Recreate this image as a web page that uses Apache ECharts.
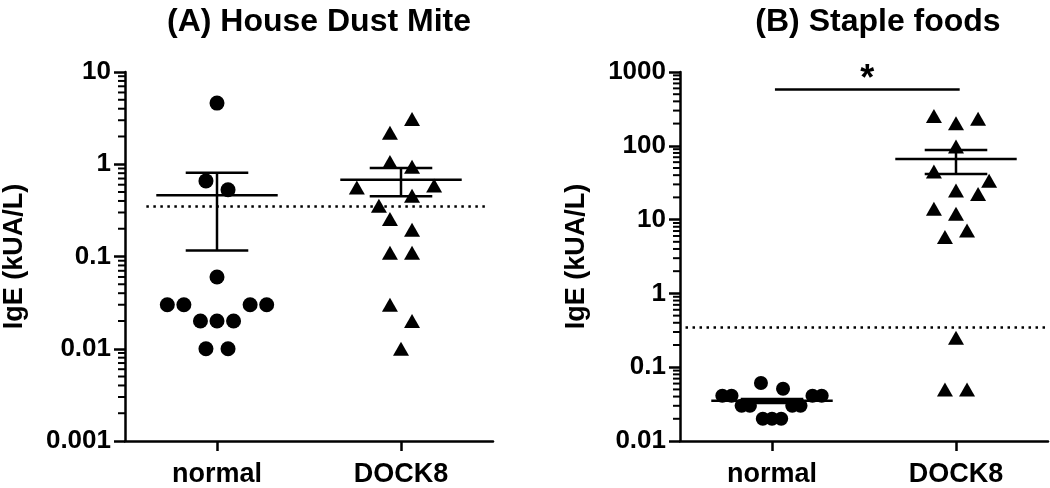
<!DOCTYPE html>
<html>
<head>
<meta charset="utf-8">
<script src="https://cdn.jsdelivr.net/npm/echarts@6/dist/echarts.min.js"></script>
<style>
html,body{margin:0;padding:0;background:#fff;}
#chart{width:1050px;height:488px;}
</style>
</head>
<body>
<div id="chart"></div>
<script>
// ---- data ----
const categories = ['normal', 'DOCK8'];
const titles = ['(A) House Dust Mite', '(B) Staple foods'];
const yName = 'IgE (kUA/L)';
const tickLabelsA = ['0.001', '0.01', '0.1', '1', '10'];
const tickLabelsB = ['0.01', '0.1', '1', '10', '100', '1000'];
const cutoff = 0.35;

// Panel A: house dust mite
const hdmNormalValues = [4.6, 0.66, 0.53, 0.06, 0.03, 0.03, 0.03, 0.03, 0.02, 0.02, 0.02, 0.01, 0.01];
const hdmNormalJitter = [0, -0.06, 0.06, 0, -0.27, -0.18, 0.18, 0.27, -0.09, 0, 0.09, -0.06, 0.06];
const hdmDockValues = [3.1, 2.2, 1.06, 0.94, 0.56, 0.59, 0.455, 0.355, 0.255, 0.195, 0.11, 0.11, 0.03, 0.02, 0.01];
const hdmDockJitter = [0.06, -0.06, -0.06, 0.06, -0.24, 0.18, 0.06, -0.12, -0.06, 0.06, -0.06, 0.06, -0.06, 0.06, 0];
const hdmMean = [0.46, 0.68];
const hdmSemLow = [0.116, 0.45];
const hdmSemHigh = [0.81, 0.91];

// Panel B: staple foods
const foodNormalValues = [0.061, 0.051, 0.041, 0.041, 0.041, 0.041, 0.03, 0.03, 0.03, 0.03, 0.02, 0.02, 0.02];
const foodNormalJitter = [-0.06, 0.06, -0.27, -0.22, 0.22, 0.27, -0.165, -0.12, 0.11, 0.155, -0.05, 0, 0.05];
const foodDockValues = [253, 202, 233, 98, 45, 33.6, 24.7, 22.3, 14, 12, 7.1, 5.8, 0.25, 0.05, 0.05];
const foodDockJitter = [-0.12, 0, 0.12, 0, -0.12, 0.18, 0, 0.12, -0.12, 0, 0.06, -0.06, 0, -0.06, 0.06];
const foodMean = [0.035, 66];
const foodSemLow = [0.0327, 41.4];
const foodSemHigh = [0.037, 88];
const sigBar = {from: 0.016, to: 1.02, level: 592, text: '*'};

// ---- helpers ----
const FONT = 'Liberation Sans, Arial, Helvetica, sans-serif';
function pts(catIndex, values, jitter) {
  return values.map((v, i) => [catIndex + jitter[i], v]);
}
function minorTicks(minExp, maxExp) {
  const out = [];
  for (let e = minExp; e < maxExp; e++) {
    for (let m = 2; m <= 9; m++) out.push([-0.5, m * Math.pow(10, e)]);
  }
  return out;
}
function labelFmt(list) {
  return v => list.find(t => Math.abs(Math.log10(+t) - Math.log10(v)) < 0.01) || '';
}
function errData(mean, lo, hi) {
  return mean.map((m, i) => [i, m, lo[i], hi[i]]);
}
const lineStyle = {stroke: '#000', lineWidth: 2.5};
function renderErr(params, api) {
  const x = api.value(0), m = api.value(1), lo = api.value(2), hi = api.value(3);
  const a = api.coord([x - 0.33, m]), b = api.coord([x + 0.33, m]);
  const top = api.coord([x, hi]), bot = api.coord([x, lo]);
  const c1 = api.coord([x - 0.17, hi]), c2 = api.coord([x + 0.17, hi]);
  const d1 = api.coord([x - 0.17, lo]), d2 = api.coord([x + 0.17, lo]);
  return {type: 'group', children: [
    {type: 'line', shape: {x1: a[0], y1: a[1], x2: b[0], y2: b[1]}, style: lineStyle},
    {type: 'line', shape: {x1: top[0], y1: top[1], x2: bot[0], y2: bot[1]}, style: lineStyle},
    {type: 'line', shape: {x1: c1[0], y1: c1[1], x2: c2[0], y2: c2[1]}, style: lineStyle},
    {type: 'line', shape: {x1: d1[0], y1: d1[1], x2: d2[0], y2: d2[1]}, style: lineStyle}
  ]};
}
function renderMinor(params, api) {
  const p = api.coord([api.value(0), api.value(1)]);
  return {type: 'line', shape: {x1: p[0] - 7, y1: p[1], x2: p[0], y2: p[1]}, style: {stroke: '#000', lineWidth: 2}};
}

function catAxis(grid) {
  return {
    type: 'category', gridIndex: grid, data: categories, boundaryGap: true,
    axisLine: {show: true, onZero: false, lineStyle: {color: '#000', width: 2.5}},
    axisTick: {show: true, alignWithLabel: true, length: 10, lineStyle: {color: '#000', width: 2.5}},
    axisLabel: {color: '#000', fontSize: 27, fontWeight: 'bold', fontFamily: FONT, margin: 20},
    splitLine: {show: false}
  };
}
function valAxis(grid) {
  return {type: 'value', gridIndex: grid, min: -0.5, max: 1.5, show: false,
          axisLine: {onZero: false}, splitLine: {show: false}};
}
function logAxis(grid, min, max, labels, gap) {
  return {
    type: 'log', logBase: 10, gridIndex: grid, min: min, max: max,
    name: yName, nameLocation: 'middle', nameGap: gap, nameRotate: 90,
    nameTextStyle: {color: '#000', fontSize: 27, fontWeight: 'bold', fontFamily: FONT},
    axisLine: {show: true, onZero: false, lineStyle: {color: '#000', width: 2.5}},
    axisTick: {show: true, length: 11, lineStyle: {color: '#000', width: 2.5}},
    axisLabel: {color: '#000', fontSize: 26, fontWeight: 'bold', fontFamily: FONT, margin: 14, formatter: labelFmt(labels)},
    splitLine: {show: false}, minorTick: {show: false}
  };
}
const dotted = {color: '#000', width: 2.5, type: [2.5, 4.5], opacity: 1};
const markStyle = {color: '#000', opacity: 1};

const option = {
  backgroundColor: '#fff',
  animation: false,
  title: [
    {text: titles[0], left: 314, top: 1, textAlign: 'center',
     textStyle: {color: '#000', fontSize: 32, fontWeight: 'bold', fontFamily: FONT}},
    {text: titles[1], left: 873, top: 1, textAlign: 'center',
     textStyle: {color: '#000', fontSize: 32, fontWeight: 'bold', fontFamily: FONT}}
  ],
  grid: [
    {left: 124, top: 72, width: 369, height: 371},
    {left: 680, top: 72, width: 368, height: 371}
  ],
  xAxis: [catAxis(0), valAxis(0), catAxis(1), valAxis(1)],
  yAxis: [logAxis(0, 0.001, 10, tickLabelsA, 97), logAxis(1, 0.01, 1000, tickLabelsB, 90)],
  series: [
    {type: 'custom', xAxisIndex: 1, yAxisIndex: 0, renderItem: renderMinor, data: minorTicks(-3, 1), silent: true, clip: false},
    {type: 'custom', xAxisIndex: 3, yAxisIndex: 1, renderItem: renderMinor, data: minorTicks(-2, 3), silent: true, clip: false},
    {type: 'scatter', xAxisIndex: 1, yAxisIndex: 0, symbol: 'circle', symbolSize: 15,
     itemStyle: markStyle, data: pts(0, hdmNormalValues, hdmNormalJitter),
     markLine: {silent: true, symbol: 'none', label: {show: false}, lineStyle: dotted,
       data: [[{coord: [-0.384, cutoff]}, {coord: [1.47, cutoff]}]]}},
    {type: 'scatter', xAxisIndex: 1, yAxisIndex: 0, symbol: 'triangle', symbolSize: [16, 14],
     itemStyle: markStyle, data: pts(1, hdmDockValues, hdmDockJitter)},
    {type: 'custom', xAxisIndex: 1, yAxisIndex: 0, renderItem: renderErr, data: errData(hdmMean, hdmSemLow, hdmSemHigh), z: 5},
    {type: 'scatter', xAxisIndex: 3, yAxisIndex: 1, symbol: 'circle', symbolSize: 14,
     itemStyle: markStyle, data: pts(0, foodNormalValues, foodNormalJitter),
     markLine: {silent: true, symbol: 'none', label: {show: false}, lineStyle: dotted,
       data: [[{coord: [-0.47, cutoff]}, {coord: [1.49, cutoff]}]]}},
    {type: 'scatter', xAxisIndex: 3, yAxisIndex: 1, symbol: 'triangle', symbolSize: [16, 14],
     itemStyle: markStyle, data: pts(1, foodDockValues, foodDockJitter),
     markLine: {silent: true, symbol: 'none', lineStyle: {color: '#000', width: 2.5, type: 'solid', opacity: 1},
       label: {show: true, position: 'middle', formatter: sigBar.text, color: '#000', fontSize: 36, fontWeight: 'bold', fontFamily: FONT, distance: -9},
       data: [[{coord: [sigBar.from, sigBar.level]}, {coord: [sigBar.to, sigBar.level]}]]}},
    {type: 'custom', xAxisIndex: 3, yAxisIndex: 1, renderItem: renderErr, data: errData(foodMean, foodSemLow, foodSemHigh), z: 5}
  ]
};
const chart = echarts.init(document.getElementById('chart'), null, {renderer: 'canvas'});
chart.setOption(option);
</script>
</body>
</html>
